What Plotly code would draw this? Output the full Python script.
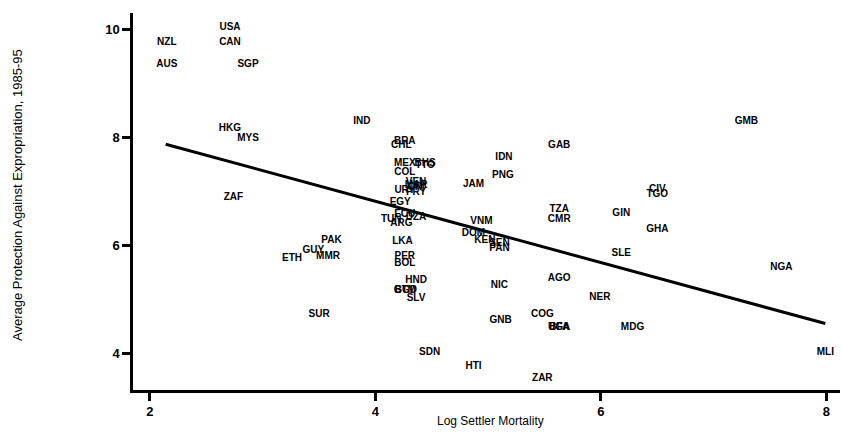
import plotly.graph_objects as go

codes = ["USA","NZL","CAN","AUS","SGP","HKG","MYS","IND","BRA","CHL","MEX","BHS","TTO","COL",
         "VEN","MAR","CRI","URY","PRY","EGY","ECU","DZA","TUN","ARG","ZAF","PAK","GUY","MMR",
         "ETH","SUR","LKA","PER","BOL","HND","GTM","BGD","SLV","SDN","HTI","ZAR","NIC","GNB",
         "COG","UGA","BFA","AGO","NER","MDG","MLI","NGA","GMB","GAB","IDN","PNG","JAM","VNM",
         "DOM","KEN","SEN","PAN","TZA","CMR","GIN","CIV","TGO","GHA","SLE"]
log_mortality = [2.71,2.15,2.71,2.15,2.87,2.71,2.87,3.88,4.26,4.23,4.26,4.44,4.44,4.26,
                 4.36,4.36,4.36,4.26,4.36,4.22,4.26,4.36,4.14,4.23,2.74,3.61,3.45,3.58,
                 3.26,3.50,4.24,4.26,4.26,4.36,4.26,4.27,4.36,4.48,4.87,5.48,5.10,5.11,
                 5.48,5.63,5.63,5.63,5.99,6.28,7.99,7.60,7.29,5.63,5.14,5.13,4.87,4.94,
                 4.87,4.97,5.10,5.10,5.63,5.63,6.18,6.50,6.50,6.50,6.18]
expropriation = [10.03,9.75,9.75,9.35,9.35,8.16,7.97,8.30,7.93,7.85,7.52,7.52,7.47,7.35,
                 7.16,7.11,7.07,7.02,6.97,6.80,6.57,6.52,6.47,6.41,6.89,6.08,5.91,5.79,
                 5.75,4.71,6.07,5.80,5.66,5.35,5.17,5.17,5.02,4.02,3.76,3.53,5.26,4.60,
                 4.71,4.48,4.48,5.39,5.03,4.48,4.02,5.58,8.30,7.85,7.62,7.30,7.12,6.44,
                 6.21,6.08,6.03,5.94,6.67,6.48,6.58,7.03,6.94,6.30,5.85]

fit_x = [2.14, 7.99]
fit_y = [7.87, 4.55]

x_ticks = [2, 4, 6, 8]
y_ticks = [4, 6, 8, 10]

FONT = "Liberation Sans, Arial"

fig = go.Figure()
fig.add_trace(go.Scatter(x=fit_x, y=fit_y, mode="lines",
                         line=dict(color="black", width=3), showlegend=False, hoverinfo="skip"))
fig.add_trace(go.Scatter(x=log_mortality, y=expropriation, mode="text", text=codes,
                         textposition="middle center",
                         textfont=dict(family=FONT, size=10, color="black", weight="bold"),
                         showlegend=False))

W, H = 841, 434
L, R, T, B = 133, 1, 13, 44
fig.update_layout(
    width=W, height=H,
    margin=dict(l=L, r=R, t=T, b=B),
    paper_bgcolor="white", plot_bgcolor="white",
    xaxis=dict(range=[1.85, 8.12], tickvals=x_ticks, ticks="outside", ticklen=8, tickwidth=2.5,
               tickcolor="black", showline=True, linecolor="black", linewidth=2.5,
               showgrid=False, zeroline=False, automargin=False,
               tickfont=dict(family=FONT, size=13, color="black", weight="bold")),
    yaxis=dict(range=[3.32, 10.3], tickvals=y_ticks, ticks="outside", ticklen=8, tickwidth=2.5,
               tickcolor="black", showline=True, linecolor="black", linewidth=2.5,
               showgrid=False, zeroline=False, automargin=False,
               tickfont=dict(family=FONT, size=13, color="black", weight="bold")),
    annotations=[
        dict(text="Log Settler Mortality", xref="paper", yref="paper",
             x=(490 - L) / (W - L - R), y=(390 - 421) / (H - T - B),
             xanchor="center", yanchor="middle", showarrow=False,
             font=dict(family=FONT, size=12, color="black")),
        dict(text="Average Protection Against Expropriation, 1985-95", xref="paper", yref="paper",
             x=(17 - L) / (W - L - R), y=(390 - 195) / (H - T - B), textangle=-90,
             xanchor="center", yanchor="middle", showarrow=False,
             font=dict(family=FONT, size=13, color="black")),
    ],
)
fig.write_html("out.html", config={"displayModeBar": False},
               post_script="document.body.style.margin='0';document.body.style.padding='0';")
